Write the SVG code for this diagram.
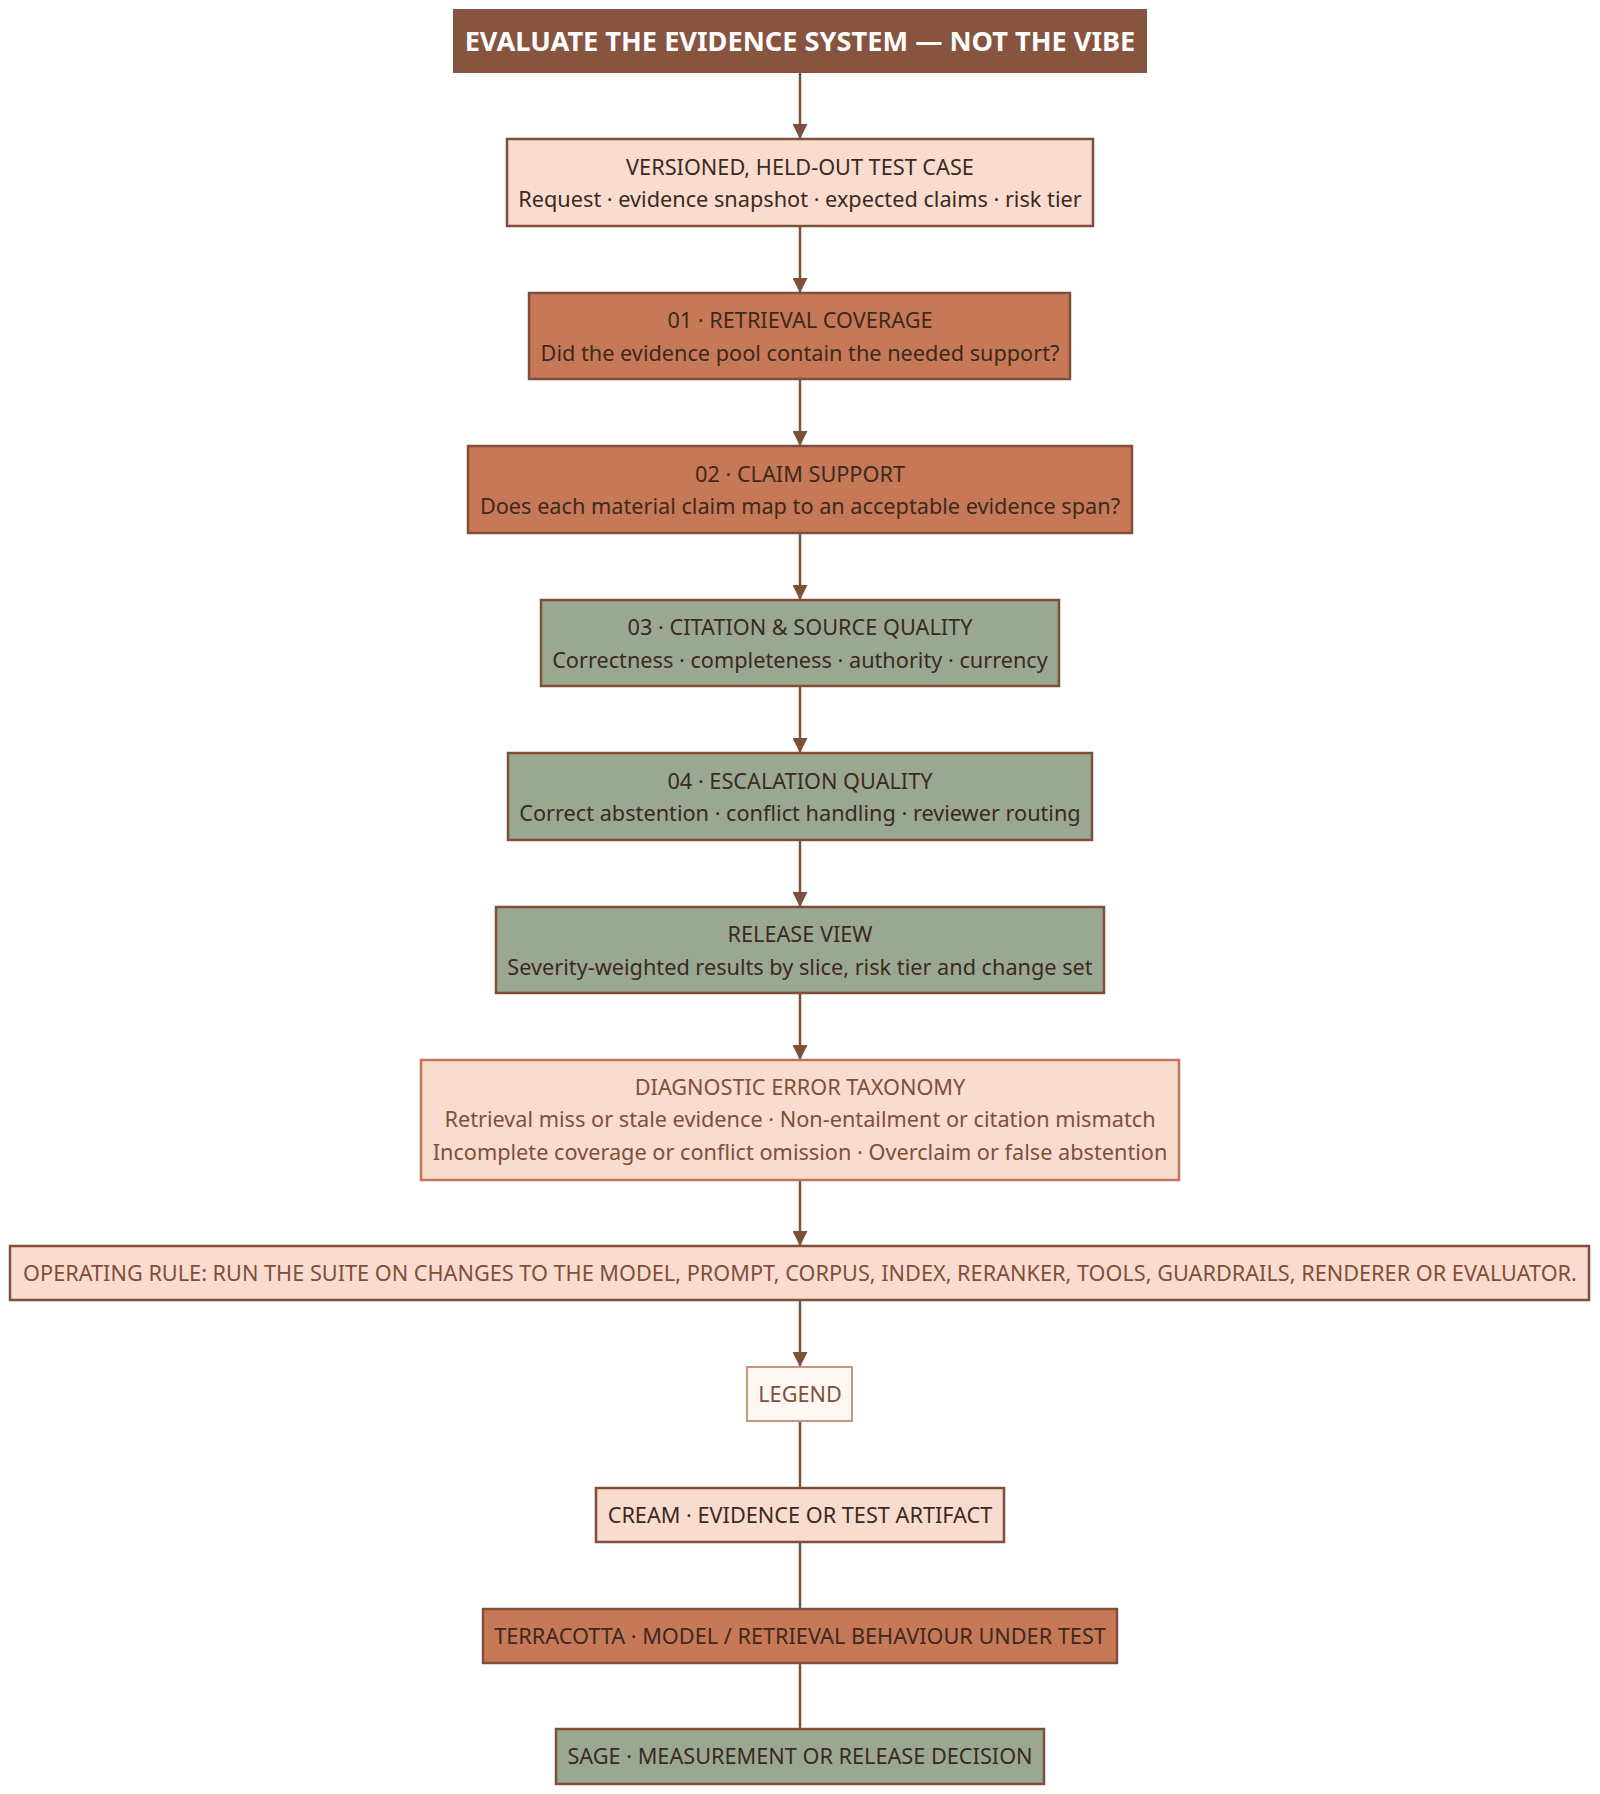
<svg xmlns="http://www.w3.org/2000/svg" width="1600" height="1794" viewBox="0 0 1600 1794">
<defs>
<style>
text{font-family:"Noto Sans","Open Sans","Liberation Sans",sans-serif;font-size:21.7px;text-anchor:middle;fill:#3b2a20}
.box{stroke:#7f4f3a;stroke-width:2.5}
.cream{fill:#f9dccf}
.terra{fill:#c77856}
.sage{fill:#9aa891}
.title{fill:#875440;stroke:#875440;stroke-width:2}
.titletxt{fill:#ffffff;font-weight:bold;font-size:27.2px}
.diag{fill:#f9dccf;stroke:#c07654;stroke-width:2.5}
.brown{fill:#7f4f3a}
.legend{fill:#fff7f3;stroke:#c9957f;stroke-width:2}
.edge{stroke:#7f4f3a;stroke-width:2.5;fill:none}
</style>
<marker id="arr" viewBox="0 0 10 10" refX="10" refY="5" markerWidth="15" markerHeight="15" markerUnits="userSpaceOnUse" orient="auto">
<path d="M0,0 L10,5 L0,10 z" fill="#7f4f3a"/>
</marker>
</defs>
<rect width="1600" height="1794" fill="#ffffff"/>
<g id="connectors">
<line class="edge" x1="800" y1="72" x2="800" y2="139" marker-end="url(#arr)"/>
<line class="edge" x1="800" y1="226" x2="800" y2="293" marker-end="url(#arr)"/>
<line class="edge" x1="800" y1="379" x2="800" y2="446" marker-end="url(#arr)"/>
<line class="edge" x1="800" y1="533" x2="800" y2="600" marker-end="url(#arr)"/>
<line class="edge" x1="800" y1="686" x2="800" y2="753" marker-end="url(#arr)"/>
<line class="edge" x1="800" y1="840" x2="800" y2="907" marker-end="url(#arr)"/>
<line class="edge" x1="800" y1="993" x2="800" y2="1060" marker-end="url(#arr)"/>
<line class="edge" x1="800" y1="1180" x2="800" y2="1246" marker-end="url(#arr)"/>
<line class="edge" x1="800" y1="1300" x2="800" y2="1367" marker-end="url(#arr)"/>
<line class="edge" x1="800" y1="1421" x2="800" y2="1488"/>
<line class="edge" x1="800" y1="1542" x2="800" y2="1609"/>
<line class="edge" x1="800" y1="1663" x2="800" y2="1729"/>
</g>
<g id="title">
<rect class="title" x="454" y="10" width="692" height="62"/>
<text class="titletxt" x="800" y="51">EVALUATE THE EVIDENCE SYSTEM — NOT THE VIBE</text>
</g>
<g id="testcase">
<rect class="box cream" x="507" y="139" width="586" height="87"/>
<text x="800" y="175">VERSIONED, HELD-OUT TEST CASE</text>
<text x="800" y="207">Request · evidence snapshot · expected claims · risk tier</text>
</g>
<g id="retrieval">
<rect class="box terra" x="529" y="293" width="541" height="86"/>
<text x="800" y="328">01 · RETRIEVAL COVERAGE</text>
<text x="800" y="361">Did the evidence pool contain the needed support?</text>
</g>
<g id="claim">
<rect class="box terra" x="468" y="446" width="664" height="87"/>
<text x="800" y="482">02 · CLAIM SUPPORT</text>
<text x="800" y="514">Does each material claim map to an acceptable evidence span?</text>
</g>
<g id="citation">
<rect class="box sage" x="541" y="600" width="518" height="86"/>
<text x="800" y="635">03 · CITATION &amp; SOURCE QUALITY</text>
<text x="800" y="668">Correctness · completeness · authority · currency</text>
</g>
<g id="escalation">
<rect class="box sage" x="508" y="753" width="584" height="87"/>
<text x="800" y="789">04 · ESCALATION QUALITY</text>
<text x="800" y="821">Correct abstention · conflict handling · reviewer routing</text>
</g>
<g id="release">
<rect class="box sage" x="496" y="907" width="608" height="86"/>
<text x="800" y="942">RELEASE VIEW</text>
<text x="800" y="975">Severity-weighted results by slice, risk tier and change set</text>
</g>
<g id="taxonomy">
<rect class="diag" x="421" y="1060" width="758" height="120"/>
<text class="brown" x="800" y="1095">DIAGNOSTIC ERROR TAXONOMY</text>
<text class="brown" x="800" y="1127">Retrieval miss or stale evidence · Non-entailment or citation mismatch</text>
<text class="brown" x="800" y="1160">Incomplete coverage or conflict omission · Overclaim or false abstention</text>
</g>
<g id="rule">
<rect class="box cream" x="10" y="1246" width="1579" height="54"/>
<text class="brown" x="800" y="1281">OPERATING RULE: RUN THE SUITE ON CHANGES TO THE MODEL, PROMPT, CORPUS, INDEX, RERANKER, TOOLS, GUARDRAILS, RENDERER OR EVALUATOR.</text>
</g>
<g id="legend">
<rect class="legend" x="747" y="1367" width="105" height="54"/>
<text class="brown" x="800" y="1402">LEGEND</text>
</g>
<g id="legend-cream">
<rect class="box cream" x="596" y="1488" width="408" height="54"/>
<text x="800" y="1523">CREAM · EVIDENCE OR TEST ARTIFACT</text>
</g>
<g id="legend-terra">
<rect class="box terra" x="483" y="1609" width="634" height="54"/>
<text x="800" y="1644">TERRACOTTA · MODEL / RETRIEVAL BEHAVIOUR UNDER TEST</text>
</g>
<g id="legend-sage">
<rect class="box sage" x="556" y="1729" width="488" height="55"/>
<text x="800" y="1764">SAGE · MEASUREMENT OR RELEASE DECISION</text>
</g>
</svg>
